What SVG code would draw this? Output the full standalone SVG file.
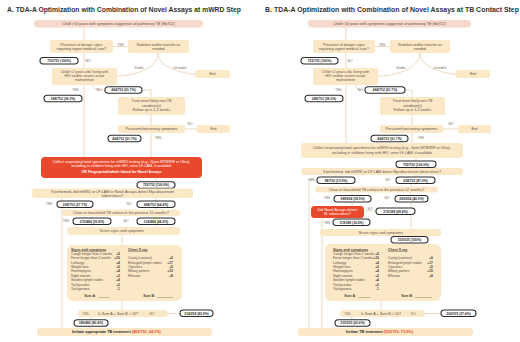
<svg xmlns="http://www.w3.org/2000/svg" width="520" height="342" viewBox="0 0 520 342">
<defs>
<style>
.bg{fill:#ffffff}
.box{fill:#fbe8c6}
.pink{fill:#f8d8cb}
.red{fill:#e8492c}
.pill{fill:#ffffff;stroke:#2a2a2a;stroke-width:1.1}
.ln{stroke:#e4c9a3;stroke-width:0.7;fill:none}
.t{font-family:"Liberation Sans",Arial,sans-serif;font-size:3.7px;fill:#5b5046;text-anchor:middle}
.tw{font-family:"Liberation Sans",Arial,sans-serif;font-size:3.7px;fill:#ffffff;text-anchor:middle}
.pt{font-family:"Liberation Sans",Arial,sans-serif;font-size:3.3px;font-weight:bold;fill:#2a2a2a;text-anchor:middle}
.lab{font-family:"Liberation Sans",Arial,sans-serif;font-size:3.3px;fill:#7a6f64;text-anchor:middle}
.title{font-family:"Liberation Sans",Arial,sans-serif;font-size:6.3px;font-weight:bold;fill:#333333}
.tb{font-family:"Liberation Sans",Arial,sans-serif;font-size:3.4px;fill:#5b5046}
.tbh{font-family:"Liberation Sans",Arial,sans-serif;font-size:3.5px;font-weight:bold;fill:#4a3f36;text-decoration:underline}
.tv{font-family:"Liberation Sans",Arial,sans-serif;font-size:3.4px;font-weight:bold;fill:#4a3f36;text-anchor:end}
.fin{font-family:"Liberation Sans",Arial,sans-serif;font-size:3.8px;font-weight:bold;fill:#2a2a2a}
.finr{fill:#e8492c}
</style>
</defs>
<rect class="bg" x="0" y="0" width="520" height="342"/>

<!-- ================= PANEL A ================= -->
<text class="title" x="7" y="12" textLength="234" lengthAdjust="spacingAndGlyphs">A. TDA-A Optimization with Combination of Novel Assays at mWRD Step</text>

<g id="connectors-a">
<path class="ln" d="M84,27 L84,40"/>
<path class="ln" d="M84,53 L84,68"/>
<path class="ln" d="M113,46.5 L128,46.5"/>
<path class="ln" d="M158,53 C158,70 130,76 117,76"/>
<path class="ln" d="M158,53 C158,68 185,74 195,74"/>
<path class="ln" d="M84,85 L84,157"/>
<path class="ln" d="M93,85 C93,89 97,90 105,90"/>
<path class="ln" d="M142,90 L151,90 L151,97"/>
<path class="ln" d="M151,115 L151,125"/>
<path class="ln" d="M185,129 L197,129"/>
<path class="ln" d="M151,133 L151,157"/>
<path class="ln" d="M156,178 L156,188"/>
<path class="ln" d="M62,198 L62,328"/>
<path class="ln" d="M156,198 L156,210"/>
<path class="ln" d="M92,216 L92,227"/>
<path class="ln" d="M156,216 L156,227"/>
<path class="ln" d="M122,235 L122,245"/>
<path class="ln" d="M122,301 L122,310"/>
<path class="ln" d="M168,313.5 L180,313.5"/>
<path class="ln" d="M91,317 L91,328"/>
</g>

<g id="a-start"><rect class="pink" x="34" y="20" width="169" height="7.5" rx="3.7"/>
<text class="t" x="118.5" y="25.1">Child &lt;10 years with symptoms suggestive of pulmonary TB   (N=752)</text></g>

<g id="a-danger"><rect class="box" x="50" y="40" width="63" height="13" rx="2"/>
<text class="t" x="81.5" y="45.6">Presence of danger signs</text>
<text class="t" x="81.5" y="49.8">requiring urgent medical care?</text></g>
<text class="lab" x="120.5" y="45.5">YES</text>

<g id="a-stabilize"><rect class="box" x="128" y="40" width="61" height="13" rx="2"/>
<text class="t" x="158.5" y="45.6">Stabilize and/or transfer as</text>
<text class="t" x="158.5" y="49.8">needed</text></g>

<g id="a-p1"><rect class="pill" x="40" y="57.5" width="38" height="6.5" rx="3.2"/><text class="pt" x="59" y="62">752/752 (100%)</text></g>
<text class="lab" x="88" y="61.5">NO</text>

<text class="lab" x="139" y="69">Stable</text>
<text class="lab" x="180" y="69">Unstable</text>

<g id="a-child"><rect class="box" x="52" y="68" width="65" height="17" rx="2"/>
<text class="t" x="84.5" y="73">Child &lt;2 years old, living with</text>
<text class="t" x="84.5" y="77.2">HIV and/or severe acute</text>
<text class="t" x="84.5" y="81.4">malnutrition</text></g>

<g id="a-exit1"><rect class="box" x="195" y="70" width="35" height="8" rx="1.5"/><text class="t" x="212.5" y="75.3">Exit</text></g>

<text class="lab" x="75.5" y="90.5">YES</text>
<text class="lab" x="99" y="90.5">NO</text>
<g id="a-p2"><rect class="pill" x="44" y="95.3" width="38" height="6.5" rx="3.2"/><text class="pt" x="63" y="99.8">288/752 (38.3%)</text></g>
<g id="a-p3"><rect class="pill" x="105" y="86.8" width="37" height="6.5" rx="3.2"/><text class="pt" x="123.5" y="91.3">464/752 (61.7%)</text></g>

<g id="a-treat"><rect class="box" x="118" y="97" width="67" height="18" rx="2"/>
<text class="t" x="151.5" y="102.3">Treat most likely non-TB</text>
<text class="t" x="151.5" y="106.6">condition(s)</text>
<text class="t" x="151.5" y="110.9">Follow up in 1-2 weeks</text></g>

<g id="a-persist"><rect class="box" x="118" y="125" width="67" height="8" rx="2"/>
<text class="t" x="151.5" y="130.3">Persistent/worsening symptoms</text></g>
<text class="lab" x="190" y="125">NO</text>
<g id="a-exit2"><rect class="box" x="197" y="125" width="33" height="8" rx="1.5"/><text class="t" x="213.5" y="130.3">Exit</text></g>

<g id="a-p4"><rect class="pill" x="108" y="135.3" width="33" height="6.5" rx="3.2"/><text class="pt" x="124.5" y="139.8">464/752 (61.7%)</text></g>
<text class="lab" x="158" y="139">YES</text>

<g id="a-collect"><rect class="red" x="41" y="157" width="161" height="21" rx="4"/>
<text class="tw" x="121.5" y="163">Collect respiratory/stool specimens for mWRD testing (e.g., Xpert MTB/RIF or Ultra),</text>
<text class="tw" x="121.5" y="167.4">including in children living with HIV, urine LF-LAM, if available</text>
<text class="tw" x="121.5" y="172.8" font-weight="bold">OR Fingerprick/whole blood for Novel Assays</text></g>

<g id="a-p5"><rect class="pill" x="137" y="181.8" width="38" height="6.5" rx="3.2"/><text class="pt" x="156" y="186.3">752/752 (100.0%)</text></g>

<g id="a-detect"><rect class="box" x="32" y="188.5" width="161" height="9.5" rx="3"/>
<text class="t" x="112.5" y="192.6">If performed, did mWRD or LF-LAM or Novel Assays detect Mycobacterium</text>
<text class="t" x="112.5" y="196.6">tuberculosis?</text></g>

<text class="lab" x="49" y="205">YES</text>
<g id="a-p6"><rect class="pill" x="57" y="201" width="36" height="6.5" rx="3.2"/><text class="pt" x="75" y="205.5">208/752 (27.7%)</text></g>
<text class="lab" x="129" y="205">NO</text>
<g id="a-p7"><rect class="pill" x="137" y="201" width="38" height="6.5" rx="3.2"/><text class="pt" x="156" y="205.5">484/752 (64.4%)</text></g>

<g id="a-contact"><rect class="box" x="62" y="209.5" width="118" height="6.5" rx="3"/>
<text class="t" x="121" y="214">Close or household TB contact in the previous 12 months?</text></g>

<text class="lab" x="66" y="222">YES</text>
<g id="a-p8"><rect class="pill" x="73" y="218" width="38" height="6.5" rx="3.2"/><text class="pt" x="92" y="222.5">270/484 (55.8%)</text></g>
<text class="lab" x="126" y="222">NO</text>
<g id="a-p9"><rect class="pill" x="137" y="218" width="38" height="6.5" rx="3.2"/><text class="pt" x="156" y="222.5">214/484 (44.2%)</text></g>

<g id="a-score"><rect class="box" x="67" y="227" width="113" height="8" rx="3"/>
<text class="t" x="122" y="232.3">Score signs and symptoms</text></g>

<g id="a-table"><rect class="box" x="67" y="245" width="115" height="56" rx="6"/>
<text class="tbh" x="71" y="250.5">Signs and symptoms</text>
<text class="tb" x="71" y="254.8">Cough longer than 2 weeks</text><text class="tv" x="120" y="254.8">+5</text>
<text class="tb" x="71" y="259.2">Fever longer than 2 weeks</text><text class="tv" x="120" y="259.2">+10</text>
<text class="tb" x="71" y="263.6">Lethargy</text><text class="tv" x="120" y="263.6">+4</text>
<text class="tb" x="71" y="268">Weight loss</text><text class="tv" x="120" y="268">+5</text>
<text class="tb" x="71" y="272.4">Haemoptysis</text><text class="tv" x="120" y="272.4">+4</text>
<text class="tb" x="71" y="276.8">Night sweats</text><text class="tv" x="120" y="276.8">+2</text>
<text class="tb" x="71" y="281.2">Swollen lymph nodes</text><text class="tv" x="120" y="281.2">+4</text>
<text class="tb" x="71" y="285.6">Tachycardia</text><text class="tv" x="120" y="285.6">+2</text>
<text class="tb" x="71" y="290">Tachypnoea</text><text class="tv" x="120" y="290">-1</text>
<text class="tbh" x="128" y="250.5">Chest X-ray</text>
<text class="tb" x="128" y="259.2">Cavity (cavities)</text><text class="tv" x="173" y="259.2">+6</text>
<text class="tb" x="128" y="263.6">Enlarged lymph nodes</text><text class="tv" x="173" y="263.6">+17</text>
<text class="tb" x="128" y="268">Opacities</text><text class="tv" x="173" y="268">+5</text>
<text class="tb" x="128" y="272.4">Miliary pattern</text><text class="tv" x="173" y="272.4">+15</text>
<text class="tb" x="128" y="276.8">Effusion</text><text class="tv" x="173" y="276.8">+8</text>
<text class="tv" x="96" y="297.3">Sum A:</text><line x1="98" y1="297.5" x2="110" y2="297.5" stroke="#4a3f36" stroke-width="0.3"/>
<text class="tv" x="155" y="297.3">Sum B:</text><line x1="157" y1="297.5" x2="173" y2="297.5" stroke="#4a3f36" stroke-width="0.3"/></g>

<g id="a-sum"><rect class="box" x="78" y="310" width="90" height="7" rx="3.5"/>
<text class="lab" x="85.5" y="314.8">YES</text>
<text class="t" x="118" y="314.8">Is Sum A + Sum B &gt; 10?</text>
<text class="lab" x="152" y="314.8">NO</text></g>
<g id="a-p10"><rect class="pill" x="180" y="310" width="33" height="6.5" rx="3.2"/><text class="pt" x="196.5" y="314.5">214/258 (82.9%)</text></g>
<g id="a-p11"><rect class="pill" x="74" y="319.8" width="34" height="6.5" rx="3.2"/><text class="pt" x="91" y="324.3">386/480 (80.4%)</text></g>

<g id="a-initiate"><rect class="box" x="37" y="328" width="175" height="8" rx="3"/>
<text class="fin" x="72" y="333.3">Initiate appropriate TB treatment <tspan class="finr">(482/752, 64.1%)</tspan></text></g>

<!-- ================= PANEL B ================= -->
<text class="title" x="265" y="12" textLength="254" lengthAdjust="spacingAndGlyphs">B. TDA-A Optimization with Combination of Novel Assays at TB Contact Step</text>

<g id="connectors-b">
<path class="ln" d="M346,27 L346,40"/>
<path class="ln" d="M346,53 L346,68"/>
<path class="ln" d="M375,46.5 L390,46.5"/>
<path class="ln" d="M420,53 C420,70 392,76 378,76"/>
<path class="ln" d="M420,53 C420,68 446,74 456,74"/>
<path class="ln" d="M346,85 L346,143"/>
<path class="ln" d="M356,85 C356,89 359,90 365,90"/>
<path class="ln" d="M405,90 L412,90 L412,97"/>
<path class="ln" d="M412,115 L412,125"/>
<path class="ln" d="M443,129 L458,129"/>
<path class="ln" d="M412,133 L412,143"/>
<path class="ln" d="M416,158 L416,168"/>
<path class="ln" d="M336,175 L336,177"/>
<path class="ln" d="M317,180 L309,180 L309,328"/>
<path class="ln" d="M416,175 L416,177"/>
<path class="ln" d="M411,183 L411,229"/>
<path class="ln" d="M352,192 L352,206"/>
<path class="ln" d="M364,211 L376,211"/>
<path class="ln" d="M322,218 L322,328"/>
<path class="ln" d="M409,236 L409,244"/>
<path class="ln" d="M381,301 L381,310"/>
<path class="ln" d="M425,313.5 L441,313.5"/>
<path class="ln" d="M352,317 L352,328"/>
</g>

<g id="b-start"><rect class="pink" x="308" y="20" width="163" height="7.5" rx="3.7"/>
<text class="t" x="389.5" y="25.1">Child &lt;10 years with symptoms suggestive of pulmonary TB    (N=752)</text></g>

<g id="b-danger"><rect class="box" x="313" y="40" width="62" height="13" rx="2"/>
<text class="t" x="344" y="45.6">Presence of danger signs</text>
<text class="t" x="344" y="49.8">requiring urgent medical care?</text></g>
<text class="lab" x="382" y="45.5">YES</text>

<g id="b-stabilize"><rect class="box" x="390" y="40" width="60" height="13" rx="2"/>
<text class="t" x="420" y="45.6">Stabilize and/or transfer as</text>
<text class="t" x="420" y="49.8">needed</text></g>

<g id="b-p1"><rect class="pill" x="301" y="57.5" width="37" height="6.5" rx="3.2"/><text class="pt" x="319.5" y="62">752/752 (100%)</text></g>
<text class="lab" x="350" y="61.5">NO</text>

<text class="lab" x="401" y="69">Stable</text>
<text class="lab" x="440" y="69">Unstable</text>

<g id="b-child"><rect class="box" x="313" y="68" width="65" height="17" rx="2"/>
<text class="t" x="345.5" y="73">Child &lt;2 years old, living with</text>
<text class="t" x="345.5" y="77.2">HIV and/or severe acute</text>
<text class="t" x="345.5" y="81.4">malnutrition</text></g>

<g id="b-exit1"><rect class="box" x="456" y="70" width="34" height="8" rx="1.5"/><text class="t" x="473" y="75.3">Exit</text></g>

<text class="lab" x="338.5" y="90.5">YES</text>
<text class="lab" x="360" y="90.5">NO</text>
<g id="b-p2"><rect class="pill" x="305" y="95.3" width="38" height="6.5" rx="3.2"/><text class="pt" x="324" y="99.8">288/752 (38.3%)</text></g>
<g id="b-p3"><rect class="pill" x="365" y="86.8" width="40" height="6.5" rx="3.2"/><text class="pt" x="385" y="91.3">464/752 (61.7%)</text></g>

<g id="b-treat"><rect class="box" x="380" y="97" width="65" height="18" rx="2"/>
<text class="t" x="412.5" y="102.3">Treat most likely non-TB</text>
<text class="t" x="412.5" y="106.6">condition(s)</text>
<text class="t" x="412.5" y="110.9">Follow up in 1-2 weeks</text></g>

<g id="b-persist"><rect class="box" x="380" y="125" width="63" height="8" rx="2"/>
<text class="t" x="411.5" y="130.3">Persistent/worsening symptoms</text></g>
<text class="lab" x="451" y="125">NO</text>
<g id="b-exit2"><rect class="box" x="458" y="125" width="33" height="8" rx="1.5"/><text class="t" x="474.5" y="130.3">Exit</text></g>

<g id="b-p4"><rect class="pill" x="371" y="135.3" width="37" height="6.5" rx="3.2"/><text class="pt" x="389.5" y="139.8">464/752 (61.7%)</text></g>
<text class="lab" x="421" y="139">YES</text>

<g id="b-collect"><rect class="box" x="301" y="143" width="162" height="15" rx="3"/>
<text class="t" x="382" y="149.3">Collect respiratory/stool specimens for mWRD testing (e.g., Xpert MTB/RIF or Ultra),</text>
<text class="t" x="382" y="154.3">including in children living with HIV, urine LF-LAM, if available</text></g>

<g id="b-p5"><rect class="pill" x="396" y="161" width="40" height="6.5" rx="3.2"/><text class="pt" x="416" y="165.5">752/752 (100.0%)</text></g>

<g id="b-detect"><rect class="box" x="301" y="168" width="162" height="7" rx="3.5"/>
<text class="t" x="382" y="172.8">If performed, did mWRD or LF-LAM detect Mycobacterium tuberculosis?</text></g>

<text class="lab" x="311" y="181">YES</text>
<g id="b-p6"><rect class="pill" x="317" y="177" width="38" height="6.5" rx="3.2"/><text class="pt" x="336" y="181.5">98/752 (13.0%)</text></g>
<text class="lab" x="388" y="181">NO</text>
<g id="b-p7"><rect class="pill" x="396" y="177" width="39" height="6.5" rx="3.2"/><text class="pt" x="415.5" y="181.5">654/752 (87.0%)</text></g>

<g id="b-contact"><rect class="box" x="315" y="186.5" width="123" height="6" rx="3"/>
<text class="t" x="376.5" y="190.8">Close or household TB contact in the previous 12 months?</text></g>

<text class="lab" x="327" y="199">YES</text>
<g id="b-p8"><rect class="pill" x="334" y="195.5" width="37" height="6.5" rx="3.2"/><text class="pt" x="352.5" y="200">389/654 (59.5%)</text></g>
<text class="lab" x="387" y="199">NO</text>
<g id="b-p9"><rect class="pill" x="395" y="195.5" width="33" height="6.5" rx="3.2"/><text class="pt" x="411.5" y="200">265/654 (40.5%)</text></g>

<g id="b-novel"><rect class="red" x="311" y="206" width="53" height="12" rx="3.5"/>
<text class="tw" x="337.5" y="211">Did Novel Assays detect</text>
<text class="tw" x="337.5" y="215.3">M. tuberculosis?</text></g>
<text class="lab" x="370" y="209.5">NO</text>
<g id="b-p10"><rect class="pill" x="376" y="208" width="39" height="6.5" rx="3.2"/><text class="pt" x="395.5" y="212.5">270/389 (69.4%)</text></g>

<text class="lab" x="327" y="223.5">YES</text>
<g id="b-p11"><rect class="pill" x="333" y="219" width="37" height="6.5" rx="3.2"/><text class="pt" x="351.5" y="223.5">119/389 (30.6%)</text></g>

<g id="b-score"><rect class="box" x="320" y="229" width="121" height="7" rx="3"/>
<text class="t" x="381" y="233.6">Score signs and symptoms</text></g>
<g id="b-p12"><rect class="pill" x="391" y="236.5" width="37" height="6.5" rx="3.2"/><text class="pt" x="409.5" y="241">535/535 (100%)</text></g>

<g id="b-table"><rect class="box" x="325" y="244" width="116" height="57" rx="6"/>
<text class="tbh" x="333" y="250.5">Signs and symptoms</text>
<text class="tb" x="333" y="254.8">Cough longer than 2 weeks</text><text class="tv" x="379" y="254.8">+5</text>
<text class="tb" x="333" y="259.2">Fever longer than 2 weeks</text><text class="tv" x="379" y="259.2">+10</text>
<text class="tb" x="333" y="263.6">Lethargy</text><text class="tv" x="379" y="263.6">+4</text>
<text class="tb" x="333" y="268">Weight loss</text><text class="tv" x="379" y="268">+5</text>
<text class="tb" x="333" y="272.4">Haemoptysis</text><text class="tv" x="379" y="272.4">+4</text>
<text class="tb" x="333" y="276.8">Night sweats</text><text class="tv" x="379" y="276.8">+2</text>
<text class="tb" x="333" y="281.2">Swollen lymph nodes</text><text class="tv" x="379" y="281.2">+4</text>
<text class="tb" x="333" y="285.6">Tachycardia</text><text class="tv" x="379" y="285.6">+2</text>
<text class="tb" x="333" y="290">Tachypnoea</text><text class="tv" x="379" y="290">-1</text>
<text class="tbh" x="388" y="250.5">Chest X-ray</text>
<text class="tb" x="388" y="259.2">Cavity (cavities)</text><text class="tv" x="433" y="259.2">+6</text>
<text class="tb" x="388" y="263.6">Enlarged lymph nodes</text><text class="tv" x="433" y="263.6">+17</text>
<text class="tb" x="388" y="268">Opacities</text><text class="tv" x="433" y="268">+5</text>
<text class="tb" x="388" y="272.4">Miliary pattern</text><text class="tv" x="433" y="272.4">+15</text>
<text class="tb" x="388" y="276.8">Effusion</text><text class="tv" x="433" y="276.8">+8</text>
<text class="tv" x="356" y="297.3">Sum A:</text><line x1="358" y1="297.5" x2="370" y2="297.5" stroke="#4a3f36" stroke-width="0.3"/>
<text class="tv" x="413" y="297.3">Sum B:</text><line x1="415" y1="297.5" x2="432" y2="297.5" stroke="#4a3f36" stroke-width="0.3"/></g>

<g id="b-sum"><rect class="box" x="340" y="310" width="85" height="7" rx="3.5"/>
<text class="lab" x="347.5" y="314.8">YES</text>
<text class="t" x="381" y="314.8">Is Sum A + Sum B &gt; 10?</text>
<text class="lab" x="413.5" y="314.8">NO</text></g>
<g id="b-p13"><rect class="pill" x="441" y="310" width="35" height="6.5" rx="3.2"/><text class="pt" x="458.5" y="314.5">200/535 (37.4%)</text></g>
<g id="b-p14"><rect class="pill" x="335" y="319.8" width="35" height="6.5" rx="3.2"/><text class="pt" x="352.5" y="324.3">335/535 (62.6%)</text></g>

<g id="b-initiate"><rect class="box" x="298" y="328" width="175" height="8" rx="3"/>
<text class="fin" x="346" y="333.3">Initiate TB treatment <tspan class="finr">(553/752, 73.5%)</tspan></text></g>
</svg>
